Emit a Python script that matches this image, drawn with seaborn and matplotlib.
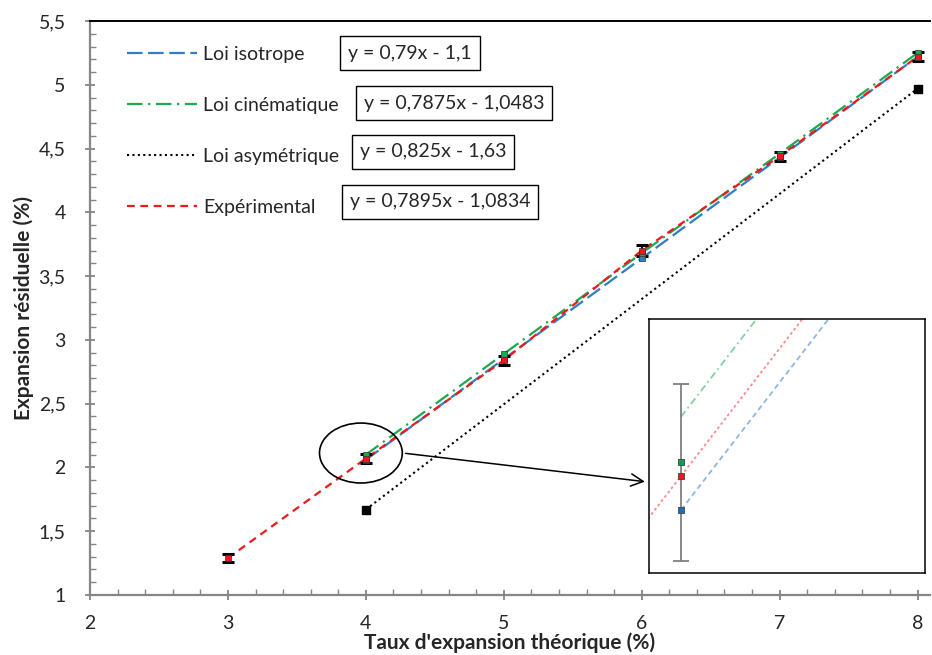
import numpy as np
import pandas as pd
import matplotlib
matplotlib.use("Agg")
import matplotlib.pyplot as plt
import seaborn as sns
from matplotlib.patches import Ellipse
from matplotlib.ticker import FuncFormatter, MultipleLocator

# données
x_exp = [3, 4, 5, 6, 7, 8]
y_exp = [1.29, 2.07, 2.84, 3.70, 4.44, 5.22]
err_exp = [0.035, 0.035, 0.035, 0.04, 0.035, 0.035]

x_lois = [4, 5, 6, 7, 8]
y_iso = [2.06, 2.85, 3.64, 4.43, 5.22]
y_cin = [2.10, 2.89, 3.68, 4.46, 5.25]

x_asym = [4, 8]
y_asym = [1.67, 4.97]

labels = ["Loi isotrope", "Loi cinématique", "Loi asymétrique", "Expérimental"]
equations = ["y = 0,79x - 1,1", "y = 0,7875x - 1,0483", "y = 0,825x - 1,63", "y = 0,7895x - 1,0834"]

# zoom (encart)
zoom_x = [4.0]
zoom_iso = [2.06]
zoom_exp = [2.0746]
zoom_cin = [2.0806]
zoom_err_center = [2.076]
zoom_err = [0.038]
zoom_exp_line = [1.285, 2.0746, 2.864, 3.653, 4.443, 5.233]

sns.set_theme(style="white")
plt.rcParams["font.family"] = ["Lato", "DejaVu Sans"]

blue = "#2F7DC8"
green = "#1BAA4E"
red = "#F01818"

fig = plt.figure(figsize=(9.32, 6.55), dpi=100)
ax = fig.add_axes([90 / 932, 60 / 655, 840 / 932, 574 / 655])

df_iso = pd.DataFrame({"x": x_lois, "y": y_iso})
df_cin = pd.DataFrame({"x": x_lois, "y": y_cin})
df_asym = pd.DataFrame({"x": x_asym, "y": y_asym})
df_exp = pd.DataFrame({"x": x_exp, "y": y_exp})

sns.lineplot(data=df_iso, x="x", y="y", ax=ax, color=blue, lw=1.6, label=labels[0])
ax.lines[-1].set_dashes((7, 2.5))
sns.lineplot(data=df_cin, x="x", y="y", ax=ax, color=green, lw=1.6, label=labels[1])
ax.lines[-1].set_dashes((7, 2.5, 1, 2.5))
sns.lineplot(data=df_asym, x="x", y="y", ax=ax, color="black", lw=1.5, label=labels[2])
ax.lines[-1].set_dashes((1, 1.6))
sns.lineplot(data=df_exp, x="x", y="y", ax=ax, color=red, lw=1.6, label=labels[3])
ax.lines[-1].set_dashes((3.5, 2.5))

ax.scatter(x_asym, y_asym, marker="s", s=26, color="black", zorder=6)
ax.errorbar(x_exp, y_exp, yerr=err_exp, fmt="none", ecolor="black", elinewidth=1.5,
            capsize=4.5, capthick=2.2, zorder=5)
ax.scatter(x_lois, y_iso, marker="s", s=14, color=blue, edgecolor="#333333", lw=0.5, zorder=6)
ax.scatter(x_lois, y_cin, marker="s", s=14, color=green, edgecolor="#333333", lw=0.5, zorder=6)
ax.scatter(x_exp, y_exp, marker="s", s=18, color=red, edgecolor="#333333", lw=0.5, zorder=7)

ax.set_xlim(2, 8.09)
ax.set_ylim(1, 5.5)
ax.xaxis.set_major_locator(MultipleLocator(1))
ax.xaxis.set_minor_locator(MultipleLocator(0.2))
ax.yaxis.set_major_locator(MultipleLocator(0.5))
ax.yaxis.set_minor_locator(MultipleLocator(0.1))
fmt = FuncFormatter(lambda v, p: "{:g}".format(v).replace(".", ","))
ax.xaxis.set_major_formatter(fmt)
ax.yaxis.set_major_formatter(fmt)
ax.tick_params(which="major", direction="inout", length=7, width=1.3, color="#868686",
               labelsize=14, bottom=True, left=True)
ax.tick_params(axis="x", which="major", pad=11)
ax.tick_params(axis="y", which="major", pad=14)
ax.tick_params(which="minor", direction="in", length=4, width=1, color="#868686",
               bottom=True, left=True)

for side in ["left", "bottom"]:
    ax.spines[side].set_color("#868686")
    ax.spines[side].set_linewidth(1.6)
ax.spines["top"].set_color("black")
ax.spines["top"].set_linewidth(1.4)
ax.spines["right"].set_visible(False)

ax.set_xlabel("Taux d'expansion théorique (%)", fontsize=15, fontweight="bold", labelpad=0)
ax.set_ylabel("Expansion résiduelle (%)", fontsize=15, fontweight="bold", labelpad=3)

leg = ax.legend(loc="upper left", bbox_to_anchor=(0.044, 0.957), frameon=False,
                fontsize=14, handlelength=3.6, handletextpad=0.3, labelspacing=1.75,
                borderaxespad=0, borderpad=0)

eq_pos = [(410, 53), (454, 103), (433, 152), (440, 202)]
for (px, py), eq in zip(eq_pos, equations):
    fig.text(px / 932, 1 - py / 655, eq, ha="center", va="center", fontsize=14,
             bbox=dict(boxstyle="square,pad=0.42", fc="white", ec="black", lw=1))

# cercle + flèche vers l'encart
ax.add_patch(Ellipse((3.964, 2.113), 0.60, 0.47, fill=False, ec="black", lw=1.2, zorder=8))
ax.annotate("", xy=(6.043, 1.886), xytext=(4.268, 2.113),
            arrowprops=dict(arrowstyle="->", color="black", lw=1.1, mutation_scale=22))

# encart
ins = fig.add_axes([649 / 932, 82 / 655, 276 / 932, 254 / 655])
ins.plot(x_lois, y_iso, color=blue, lw=1.3, alpha=0.55, dashes=(3, 2))
ins.plot(x_lois, y_cin, color=green, lw=1.3, alpha=0.55, dashes=(4, 2, 1, 2))
ins.plot(x_exp, zoom_exp_line, color=red, lw=1.3, alpha=0.5, dashes=(1.5, 1.5))
ins.errorbar(zoom_x, zoom_err_center, yerr=zoom_err, fmt="none", ecolor="#808080",
             elinewidth=1.3, capsize=6, capthick=1.3, zorder=4)
ins.scatter(zoom_x, zoom_cin, marker="s", s=22, color="#0EA04E", edgecolor="#444444", lw=0.6, zorder=5)
ins.scatter(zoom_x, zoom_exp, marker="s", s=22, color=red, edgecolor="#444444", lw=0.6, zorder=5)
ins.scatter(zoom_x, zoom_iso, marker="s", s=22, color="#1F6FB8", edgecolor="#444444", lw=0.6, zorder=5)
ins.set_xlim(3.9775, 4.1716)
ins.set_ylim(2.033, 2.142)
ins.set_xticks([])
ins.set_yticks([])
for s in ins.spines.values():
    s.set_visible(True)
    s.set_color("black")
    s.set_linewidth(1.1)

fig.savefig("out.png", dpi=100)
